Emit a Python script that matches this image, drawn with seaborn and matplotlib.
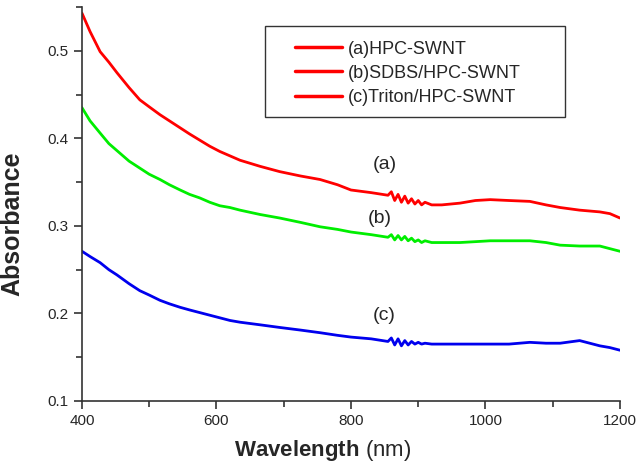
import numpy as np
import pandas as pd
import matplotlib
matplotlib.use("Agg")
import matplotlib.pyplot as plt
import seaborn as sns
from matplotlib.lines import Line2D
from matplotlib.patches import Rectangle
from matplotlib.ticker import MultipleLocator

# data
wavelength = [400, 412, 427, 440, 452, 470, 486, 500, 516, 530, 546, 560, 575, 590,
              605, 620, 635, 665, 694, 725, 754, 780, 800, 830, 855, 860, 865, 870,
              875, 880, 885, 890, 895, 900, 905, 910, 920, 935, 962, 985, 1007, 1035,
              1066, 1090, 1111, 1140, 1170, 1185, 1200]
abs_a = [0.543, 0.522, 0.499, 0.487, 0.475, 0.458, 0.444, 0.436, 0.427, 0.420, 0.412,
         0.405, 0.398, 0.391, 0.385, 0.380, 0.375, 0.368, 0.362, 0.357, 0.353, 0.347,
         0.341, 0.338, 0.335, 0.339, 0.329, 0.336, 0.327, 0.334, 0.326, 0.331, 0.325,
         0.329, 0.324, 0.327, 0.324, 0.324, 0.326, 0.329, 0.330, 0.329, 0.328, 0.324,
         0.321, 0.318, 0.316, 0.314, 0.309]
abs_b = [0.435, 0.420, 0.406, 0.394, 0.386, 0.374, 0.366, 0.359, 0.353, 0.347, 0.341,
         0.336, 0.332, 0.327, 0.323, 0.321, 0.318, 0.313, 0.309, 0.304, 0.299, 0.296,
         0.293, 0.290, 0.287, 0.290, 0.284, 0.289, 0.284, 0.288, 0.283, 0.286, 0.282,
         0.284, 0.281, 0.283, 0.281, 0.281, 0.281, 0.282, 0.283, 0.283, 0.283, 0.281,
         0.278, 0.277, 0.277, 0.274, 0.271]
abs_c = [0.271, 0.265, 0.258, 0.250, 0.244, 0.234, 0.226, 0.221, 0.215, 0.211, 0.207,
         0.204, 0.201, 0.198, 0.195, 0.192, 0.190, 0.187, 0.184, 0.181, 0.178, 0.175,
         0.173, 0.171, 0.168, 0.172, 0.164, 0.171, 0.163, 0.169, 0.164, 0.168, 0.165,
         0.167, 0.165, 0.166, 0.165, 0.165, 0.165, 0.165, 0.165, 0.165, 0.167, 0.166,
         0.166, 0.169, 0.163, 0.161, 0.158]
labels = ["(a)HPC-SWNT", "(b)SDBS/HPC-SWNT", "(c)Triton/HPC-SWNT"]
tags = ["(a)", "(b)", "(c)"]
tag_x = [850, 843, 850]
tag_y = [0.370, 0.309, 0.198]
colors = ["#ff0000", "#00ee00", "#0000ee"]

df = pd.DataFrame({"wl": wavelength * 3,
                   "A": abs_a + abs_b + abs_c,
                   "sample": [labels[0]] * len(wavelength) + [labels[1]] * len(wavelength)
                             + [labels[2]] * len(wavelength)})

sns.set_style("ticks")
plt.rcParams["font.family"] = ["Liberation Sans", "DejaVu Sans"]
plt.rcParams["mathtext.fontset"] = "custom"
plt.rcParams["mathtext.rm"] = "Liberation Sans"
plt.rcParams["mathtext.bf"] = "Liberation Sans:bold"

fig = plt.figure(figsize=(6.37, 4.69), dpi=100)
ax = fig.add_axes([0.1287, 0.145, 0.8446, 0.840])

sns.lineplot(data=df, x="wl", y="A", hue="sample", palette=colors, linewidth=2,
             legend=False, ax=ax)

ax.set_xlim(400, 1200)
ax.set_ylim(0.1, 0.55)
ax.xaxis.set_major_locator(MultipleLocator(200))
ax.xaxis.set_minor_locator(MultipleLocator(100))
ax.yaxis.set_minor_locator(MultipleLocator(0.05))
ax.set_yticks([0.1, 0.2, 0.3, 0.4, 0.5])
ax.set_yticklabels(["0.1", "0.2", "0.3", "0.4", "0.5"])
ax.tick_params(which="major", direction="out", length=6, width=1.2, labelsize=11,
               color="#333333")
ax.tick_params(which="minor", direction="out", length=4, width=1.2, color="#333333")
for s in ["top", "right"]:
    ax.spines[s].set_visible(False)
for s in ["left", "bottom"]:
    ax.spines[s].set_linewidth(1.2)
    ax.spines[s].set_color("#333333")

ax.set_xlabel(r"$\bf{Wavelength}$ (nm)", fontsize=16)
ax.xaxis.set_label_coords(0.448, -0.093)
ax.set_ylabel("Absorbance", fontsize=18, fontweight="bold")
ax.yaxis.set_label_coords(-0.108, 0.45)

for t, x, y in zip(tags, tag_x, tag_y):
    ax.text(x, y, t, fontsize=14, ha="center", va="center")

# legend: all three handles drawn red, as in the source figure
handles = [Line2D([], [], color="#ff0000", linewidth=2.5) for _ in labels]
ax.add_patch(Rectangle((0.341, 0.721), 0.557, 0.231, transform=ax.transAxes,
                       fill=False, edgecolor="#333333", linewidth=1))
ax.legend(handles, labels, loc="upper left", bbox_to_anchor=(0.396, 0.915),
          frameon=False, fontsize=13, handlelength=2.6, handletextpad=0.3,
          labelspacing=0.4, borderpad=0, borderaxespad=0)

fig.savefig("out.png", dpi=100)
